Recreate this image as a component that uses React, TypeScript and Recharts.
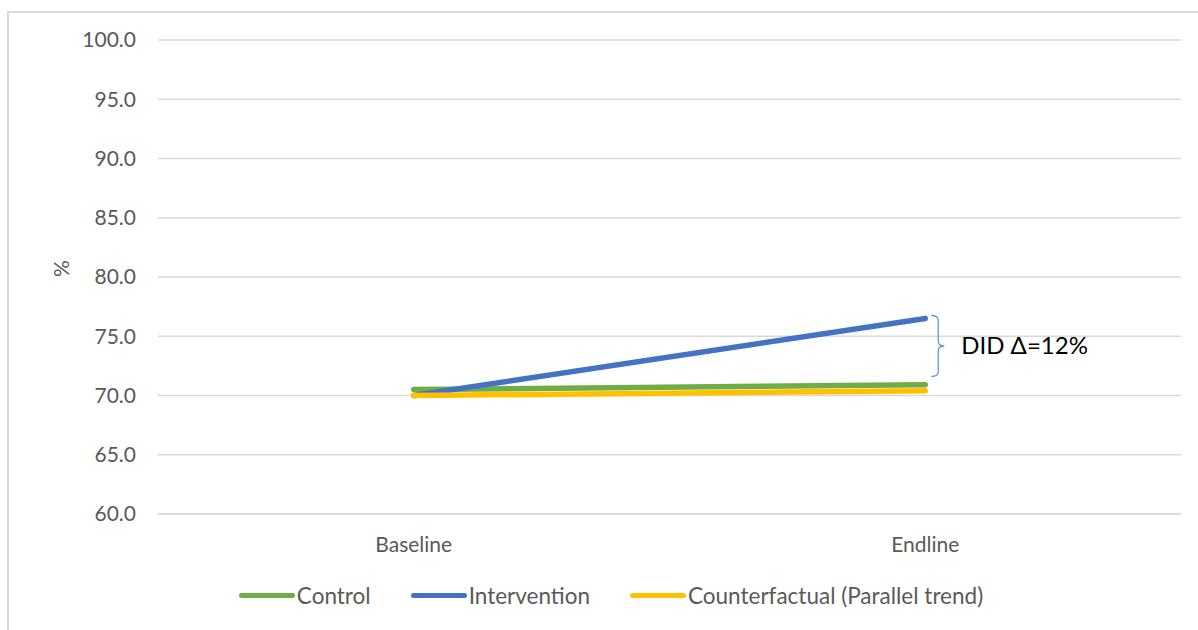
import React from 'react';
import {
    LineChart,
    Line,
    XAxis,
    YAxis,
    CartesianGrid,
} from 'recharts';

const periods = ['Baseline', 'Endline'];
const control = [70.5, 70.9];
const intervention = [70.0, 76.5];
const counterfactual = [70.0, 70.4];
const yTicks = [60, 65, 70, 75, 80, 85, 90, 95, 100];
const didLabel = 'DID \u0394=12%';

const FONT = 'Lato, "Open Sans", sans-serif';
const TEXT = '#595959';

const series = [
    { key: 'control', name: 'Control', color: '#70ad47' },
    { key: 'intervention', name: 'Intervention', color: '#4472c4' },
    { key: 'counterfactual', name: 'Counterfactual (Parallel trend)', color: '#ffc000' },
];

const data = periods.map((period, i) => ({
    period,
    control: control[i],
    intervention: intervention[i],
    counterfactual: counterfactual[i],
}));

// brace + text next to the last intervention point
const DidBracket = (props: any) => {
    const { x, y, index } = props;
    if (index !== periods.length - 1) return null;
    const bx = x + 13;
    const top = y - 3;
    const bottom = y + 58;
    const mid = (top + bottom) / 2;
    const d = `M ${bx - 7} ${top} Q ${bx} ${top} ${bx} ${top + 5} L ${bx} ${mid - 5} Q ${bx} ${mid} ${bx + 6} ${mid} Q ${bx} ${mid} ${bx} ${mid + 5} L ${bx} ${bottom - 5} Q ${bx} ${bottom} ${bx - 7} ${bottom}`;
    return (
        <g>
            <path d={d} fill="none" stroke="#5b9bd5" strokeWidth={1.3} />
            <text x={bx + 23} y={mid} dy="0.35em" fontSize={24} fill="#000" fontFamily={FONT}>
                {didLabel}
            </text>
        </g>
    );
};

const ChartLegend = () => (
    <div
        style={{
            position: 'absolute',
            left: 12,
            top: 582,
            width: 1198,
            display: 'flex',
            justifyContent: 'center',
            gap: 40,
            fontFamily: FONT,
            fontSize: 22.5,
            color: TEXT,
        }}
    >
        {series.map((s) => (
            <div key={s.key} style={{ display: 'flex', alignItems: 'center' }}>
                <span style={{ display: 'inline-block', width: 56, height: 5, borderRadius: 3, background: s.color, marginRight: 2 }} />
                <span>{s.name}</span>
            </div>
        ))}
    </div>
);

export default function App() {
    return (
        <div style={{ position: 'absolute', left: 0, top: 0, width: 1198, height: 630, background: '#fff', overflow: 'hidden' }}>
            <div
                style={{
                    position: 'absolute',
                    left: 7,
                    top: 11,
                    width: 1300,
                    height: 700,
                    borderLeft: '2px solid #d9d9d9',
                    borderTop: '2px solid #d9d9d9',
                }}
            />
            <LineChart
                width={1198}
                height={630}
                data={data}
                margin={{ top: 40, right: 17, bottom: 86, left: 88 }}
                style={{ position: 'absolute', left: 0, top: 0 }}
            >
                <CartesianGrid vertical={false} stroke="#d9d9d9" strokeWidth={1.5} />
                <XAxis
                    dataKey="period"
                    scale="band"
                    height={30}
                    axisLine={{ stroke: '#d9d9d9', strokeWidth: 1.5 }}
                    tickLine={false}
                    tickMargin={17}
                    tick={{ fill: TEXT, fontSize: 21, fontFamily: FONT }}
                />
                <YAxis
                    width={70}
                    domain={[60, 100]}
                    ticks={yTicks}
                    tickFormatter={(v: number) => v.toFixed(1)}
                    axisLine={false}
                    tickLine={false}
                    tickMargin={16}
                    tick={{ fill: TEXT, fontSize: 21, fontFamily: FONT }}
                    label={{ value: '%', angle: -90, position: 'insideLeft', offset: -26, fill: TEXT, fontSize: 21, fontFamily: FONT }}
                />
                {series.map((s) => (
                    <Line
                        key={s.key}
                        dataKey={s.key}
                        name={s.name}
                        stroke={s.color}
                        strokeWidth={5.5}
                        strokeLinecap="round"
                        dot={false}
                        isAnimationActive={false}
                        label={s.key === 'intervention' ? <DidBracket /> : undefined}
                    />
                ))}
            </LineChart>
            <ChartLegend />
        </div>
    );
}
